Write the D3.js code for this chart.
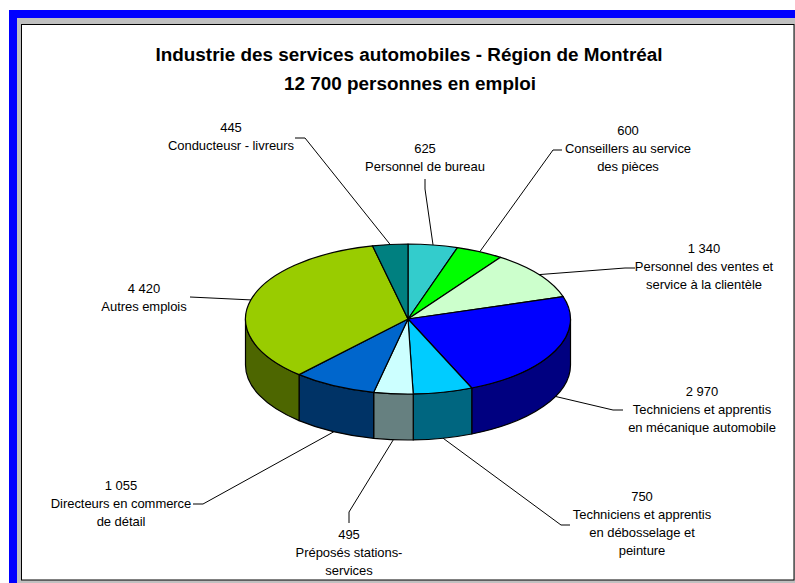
<!DOCTYPE html>
<html><head><meta charset="utf-8">
<script src="https://cdn.jsdelivr.net/npm/d3@7"></script>
<style>html,body{margin:0;padding:0;background:#fff}svg{display:block}text{font-family:"Liberation Sans",Arial,sans-serif}</style>
</head><body><div id="chart"></div>
<script>
const values=[625,600,1340,2970,750,495,1055,4420,445];
const valueLabels=["625","600","1 340","2 970","750","495","1 055","4 420","445"];
const categories=[["Personnel de bureau"],["Conseillers au service","des pièces"],["Personnel des ventes et","service à la clientèle"],["Techniciens et apprentis","en mécanique automobile"],["Techniciens et apprentis","en débosselage et","peinture"],["Préposés stations-","services"],["Directeurs en commerce","de détail"],["Autres emplois"],["Conducteusr - livreurs"]];
const topColors=["#33CCCC","#00FF00","#CCFFCC","#0000FF","#00CCFF","#CCFFFF","#0066CC","#99CC00","#008080"];
const sideColors=["#1a6666","#008000","#668066","#000080","#006680","#668080","#003366","#4D6600","#004040"];
// label layout: text centre, first baseline, and leader elbow points
const labelPos=[[425,153],[628,135],[704,253],[702,396],[642,501],[349,539],[121,490],[144,293],[231,132]];
const elbows=[[[425,189],[425,179]],[[553,150],[562,150]],[[625,268],[635,268]],[[613,410],[623,410]],[[561,525],[570,525]],[[349,512],[349,523]],[[203,504],[193,504]],[[190,297]],[[305,138],[295,138]]];
const W=795,H=583,cx=408,cy=319,rx=162.5,ry=75,depth=46;
const svg=d3.select("#chart").append("svg").attr("width",W).attr("height",H);
svg.append("rect").attr("width",W).attr("height",H).attr("fill","#fff");
svg.append("rect").attr("x",9).attr("y",10).attr("width",W-9).attr("height",H-10).attr("fill","#0000FF");
svg.append("rect").attr("x",17).attr("y",18).attr("width",W-17).attr("height",H-18).attr("fill","#C0C0C0");
svg.append("rect").attr("x",21.5).attr("y",24.5).attr("width",W-22.5).attr("height",555.5).attr("fill","#fff").attr("stroke","#000").attr("stroke-width",1);
const title=svg.append("text").attr("text-anchor","middle").attr("font-weight","bold").attr("font-size",18.9).attr("fill","#000");
title.append("tspan").attr("x",409).attr("y",61).text("Industrie des services automobiles - Région de Montréal");
title.append("tspan").attr("x",410).attr("y",90).text("12 700 personnes en emploi");
const arcs=d3.pie().sort(null).value(d=>d)(values);
const px=a=>cx+rx*Math.sin(a), py=a=>cy-ry*Math.cos(a);
// side walls (front half only)
const wall=d=>{const a0=Math.max(d.startAngle,Math.PI/2),a1=Math.min(d.endAngle,3*Math.PI/2);
  if(a1<=a0)return null;
  return `M${px(a0)},${py(a0)}A${rx},${ry} 0 0 1 ${px(a1)},${py(a1)}L${px(a1)},${py(a1)+depth}A${rx},${ry} 0 0 0 ${px(a0)},${py(a0)+depth}Z`;};
svg.append("g").selectAll("path").data(arcs.filter(wall)).join("path").attr("d",wall)
  .attr("fill",d=>sideColors[d.index]).attr("stroke","#000").attr("stroke-width",1.2).attr("stroke-linejoin","round");
// top face
const topFace=d=>`M${cx},${cy}L${px(d.startAngle)},${py(d.startAngle)}A${rx},${ry} 0 ${d.endAngle-d.startAngle>Math.PI?1:0} 1 ${px(d.endAngle)},${py(d.endAngle)}Z`;
svg.append("g").selectAll("path").data(arcs).join("path").attr("d",topFace)
  .attr("fill",d=>topColors[d.index]).attr("stroke","#000").attr("stroke-width",1.2).attr("stroke-linejoin","round");
// leaders
const anchor=d=>{const m=(d.startAngle+d.endAngle)/2;return [px(m),py(m)+(Math.cos(m)<0?depth:0)];};
svg.append("g").selectAll("path").data(arcs).join("path")
  .attr("d",d=>d3.line()([anchor(d),...elbows[d.index]])).attr("fill","none").attr("stroke","#000").attr("stroke-width",1);
// labels
const lab=svg.append("g").attr("font-size",13).attr("fill","#000").attr("text-anchor","middle").style("letter-spacing","-0.05px");
arcs.forEach(d=>{const [x,y]=labelPos[d.index];
  const t=lab.append("text");
  [valueLabels[d.index],...categories[d.index]].forEach((s,i)=>t.append("tspan").attr("x",x).attr("y",y+i*18).text(s));
});
</script></body></html>
